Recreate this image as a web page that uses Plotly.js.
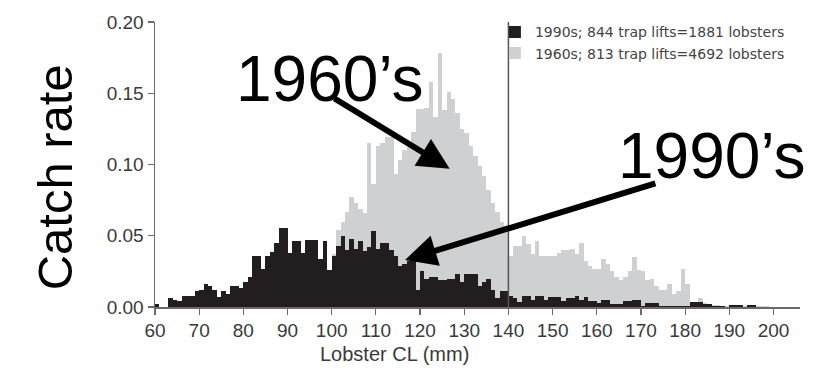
<!DOCTYPE html>
<html>
<head>
<meta charset="utf-8">
<script src="https://cdn.plot.ly/plotly-3.0.1.min.js"></script>
<style>html,body{margin:0;padding:0;background:#fff;}#chart{width:813px;height:379px;}</style>
</head>
<body>
<div id="chart"></div>
<script>
// Bin starts (mm), 1-mm bins
const binStart = [
 60,61,62,63,64,65,66,67,68,69,70,71,72,73,74,75,76,77,78,79,
 80,81,82,83,84,85,86,87,88,89,90,91,92,93,94,95,96,97,98,99,
 100,101,102,103,104,105,106,107,108,109,110,111,112,113,114,115,116,117,118,119,
 120,121,122,123,124,125,126,127,128,129,130,131,132,133,134,135,136,137,138,139,
 140,141,142,143,144,145,146,147,148,149,150,151,152,153,154,155,156,157,158,159,
 160,161,162,163,164,165,166,167,168,169,170,171,172,173,174,175,176,177,178,179,
 180,181,182,183,184,185,186,187,188,189,190,191,192,193,194,195,196,197,198,199,
 200,201,202,203,204,205
];

// 1990s catch rate
const rate1990s = [
 0.002,0,0,0.006,0.005,0.004,0.008,0.008,0.008,0.011,0.012,0.016,0.0145,0.012,0.007,0.011,0.009,0.015,0.0145,0.013,
 0.0175,0.021,0.036,0.036,0.027,0.036,0.0385,0.045,0.0555,0.0555,0.038,0.046,0.046,0.038,0.047,0.047,0.047,0.034,0.046,0.026,
 0.036,0.043,0.050,0.040,0.048,0.041,0.046,0.039,0.042,0.053,0.041,0.045,0.045,0.040,0.036,0.029,0.030,0.032,0.032,0.012,
 0.025,0.020,0.021,0.021,0.019,0.019,0.020,0.020,0.023,0.0175,0.023,0.023,0.023,0.015,0.0175,0.020,0.012,0.006,0.011,0.011,
 0.008,0.006,0.0035,0.0075,0.0075,0.005,0.008,0.008,0.005,0.007,0.007,0.007,0.004,0.006,0.006,0.008,0.005,0.007,0.004,0.004,
 0.003,0.005,0.005,0.002,0.002,0.002,0.004,0.004,0.005,0.005,0.001,0.0025,0.0025,0.0025,0.001,0.001,0.0005,0.0005,0.0005,0.0005,
 0.0005,0.0035,0.0035,0.0035,0.002,0.002,0.001,0.0005,0.0005,0,0.0015,0.0015,0.0015,0,0.0015,0.0015,0,0,0,0,
 0,0,0,0,0,0
];

// 1960s catch rate
const rate1960s = [
 0,0,0,0,0,0,0,0,0,0,0,0,0,0,0,0,0,0,0,0,
 0,0,0,0,0,0,0,0,0,0,0,0,0,0,0,0.005,0.008,0.012,0.015,0.020,
 0.037,0.054,0.060,0.067,0.077,0.073,0.069,0.066,0.115,0.086,0.113,0.115,0.119,0.119,0.093,0.103,0.110,0.112,0.123,0.139,
 0.139,0.140,0.158,0.133,0.178,0.138,0.151,0.146,0.136,0.125,0.122,0.113,0.106,0.099,0.092,0.082,0.073,0.067,0.060,0.057,
 0.036,0.043,0.043,0.050,0.044,0.037,0.046,0.036,0.036,0.036,0.036,0.038,0.040,0.040,0.041,0.037,0.045,0.032,0.029,0.027,
 0.027,0.034,0.030,0.025,0.021,0.019,0.021,0.025,0.035,0.026,0.025,0.019,0.020,0.015,0.012,0.012,0.016,0.009,0.011,0.027,
 0.016,0.003,0.003,0.0065,0.003,0.002,0.0015,0.0015,0.001,0.001,0.0007,0.0007,0.0007,0.0007,0.0007,0.0007,0.0007,0.0007,0.0007,0,
 0,0,0,0,0,0
];

const seriesNames = ['1990s; 844 trap lifts=1881 lobsters', '1960s; 813 trap lifts=4692 lobsters'];
const xTicks = [60,70,80,90,100,110,120,130,140,150,160,170,180,190,200];
const yTicks = [0, 0.05, 0.10, 0.15, 0.20];
const legalSize = 140;

const axisFont = {family: 'Liberation Sans, Arial, sans-serif', size: 19, color: '#3a3a3a'};

const traces = [
  {type:'bar', x: binStart, y: rate1960s, name: seriesNames[1], offset: 0, width: 1,
   marker:{color:'#cfd0d2', line:{width:0}}, hoverinfo:'skip'},
  {type:'bar', x: binStart, y: rate1990s, name: seriesNames[0], offset: 0, width: 1,
   marker:{color:'#221e1f', line:{width:0}}, hoverinfo:'skip'}
];

const bigFont = {family:'Liberation Sans, Arial, sans-serif', size: 64, color:'#000'};

const layout = {
  width: 813, height: 379,
  margin: {l:155, r:13, t:22, b:72},
  paper_bgcolor:'#fff', plot_bgcolor:'#fff',
  barmode:'overlay', bargap:0,
  showlegend: true,
  legend: {x: 0.527, y: 1.02, xanchor:'left', yanchor:'top', traceorder:'reversed',
    bgcolor:'rgba(0,0,0,0)', font:{family:'DejaVu Sans, sans-serif', size:14, color:'#444'},
    itemwidth:30, tracegroupgap:0},
  xaxis: {range:[60, 206], tickvals: xTicks, ticktext: xTicks.map(String), showgrid:false, zeroline:false,
    showline:true, linecolor:'#6a6a6a', linewidth:1.5, ticks:'outside', ticklen:6, tickcolor:'#6a6a6a', tickwidth:1.2,
    tickfont: axisFont, fixedrange:true},
  yaxis: {range:[0, 0.2], tickvals: yTicks, ticktext: yTicks.map(v=>v.toFixed(2)), showgrid:false, zeroline:false,
    showline:true, linecolor:'#6a6a6a', linewidth:1.5, ticks:'outside', ticklen:6, tickcolor:'#6a6a6a', tickwidth:1.2,
    tickfont: axisFont, fixedrange:true},
  shapes: [
    {type:'line', xref:'x', yref:'y', x0: legalSize, x1: legalSize, y0: 0, y1: 0.2, line:{color:'#555', width:1.5}}
  ],
  annotations: [
    {xref:'paper', yref:'paper', x:0.372, y:-0.165, text:'Lobster CL (mm)', showarrow:false,
     font:{family:'Liberation Sans, Arial, sans-serif', size:20, color:'#3a3a3a'}, xanchor:'center', yanchor:'middle'},
    {xref:'paper', yref:'paper', x:-0.155, y:0.455, text:'Catch rate', showarrow:false, textangle:-90,
     font:{family:'Liberation Sans, Arial, sans-serif', size:49, color:'#000'}, xanchor:'center', yanchor:'middle'},
    {xref:'x', yref:'y', x:99.6, y:0.160, text:'1960’s', showarrow:false, font: bigFont, xanchor:'center', yanchor:'middle'},
    {xref:'x', yref:'y', x:186, y:0.106, text:'1990’s', showarrow:false, font: bigFont, xanchor:'center', yanchor:'middle'},
    {xref:'x', yref:'y', x:126.7, y:0.097, axref:'x', ayref:'y', ax:100.3, ay:0.147, text:'', showarrow:true,
     arrowhead:2, arrowsize:1.05, arrowwidth:6, arrowcolor:'#000'},
    {xref:'x', yref:'y', x:116.6, y:0.033, axref:'x', ayref:'y', ax:173.6, ay:0.087, text:'', showarrow:true,
     arrowhead:2, arrowsize:1.05, arrowwidth:6, arrowcolor:'#000'}
  ]
};

Plotly.newPlot('chart', traces, layout, {displayModeBar:false, staticPlot:true});
</script>
</body>
</html>
